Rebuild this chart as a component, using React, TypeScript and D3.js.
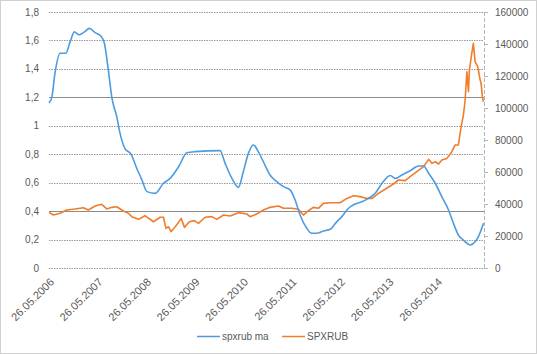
import * as d3 from "d3";

const W = 537;
const H = 354;

// spxrub ma (left axis)
const maDates = [
  "2006-05-26", "2006-06-16", "2006-07-10", "2006-08-17", "2006-09-29", "2006-11-01",
  "2006-12-03", "2007-01-08", "2007-02-17", "2007-03-26", "2007-05-08", "2007-06-22",
  "2007-07-17", "2007-08-16", "2007-09-11", "2007-10-18", "2007-11-12", "2007-12-19",
  "2008-02-03", "2008-03-17", "2008-04-24", "2008-06-01", "2008-08-02", "2008-10-04",
  "2008-11-23", "2009-01-25", "2009-03-29", "2009-05-30", "2009-12-04", "2010-01-11",
  "2010-03-03", "2010-04-21", "2010-05-28", "2010-07-05", "2010-08-12", "2010-09-18",
  "2010-10-26", "2010-12-15", "2011-02-04", "2011-03-26", "2011-05-15", "2011-06-22",
  "2011-07-29", "2011-09-18", "2011-10-25", "2011-12-02", "2012-01-21", "2012-03-12",
  "2012-05-01", "2012-06-08", "2012-07-28", "2012-09-16", "2012-11-05", "2012-12-25",
  "2013-02-14", "2013-04-06", "2013-06-07", "2013-07-15", "2013-09-03", "2013-11-04",
  "2014-01-06", "2014-02-13", "2014-03-23", "2014-05-12", "2014-07-01", "2014-08-20",
  "2014-09-26", "2014-11-02", "2014-12-10", "2015-01-30", "2015-03-08", "2015-04-02",
  "2015-05-10",
];
const maValues = [
  1.16, 1.2, 1.37, 1.51, 1.51, 1.59,
  1.66, 1.64, 1.66, 1.685, 1.655, 1.63,
  1.58, 1.39, 1.2, 1.064, 0.947, 0.84,
  0.8, 0.7, 0.62, 0.537, 0.525, 0.596,
  0.63, 0.71, 0.81, 0.818, 0.825, 0.736,
  0.63, 0.567, 0.677, 0.806, 0.865, 0.818,
  0.747, 0.654, 0.607, 0.572, 0.549, 0.478,
  0.373, 0.279, 0.244, 0.244, 0.26, 0.272,
  0.326, 0.361, 0.42, 0.45, 0.466, 0.49,
  0.525, 0.596, 0.65, 0.63, 0.654, 0.684,
  0.717, 0.717, 0.666, 0.596, 0.5, 0.408,
  0.314, 0.232, 0.197, 0.162, 0.185, 0.22,
  0.314,
];

// SPXRUB (right axis)
const spxDates = [
  "2006-05-26", "2006-06-28", "2006-08-17", "2006-10-06", "2006-12-08", "2007-02-09",
  "2007-03-18", "2007-05-08", "2007-06-27", "2007-08-04", "2007-09-11", "2007-10-18",
  "2007-12-07", "2008-01-14", "2008-02-08", "2008-03-29", "2008-05-18", "2008-07-20",
  "2008-09-09", "2008-10-04", "2008-10-22", "2008-11-10", "2008-11-30", "2008-12-31",
  "2009-01-20", "2009-02-14", "2009-03-11", "2009-04-16", "2009-05-25", "2009-06-24",
  "2009-08-13", "2009-10-03", "2009-11-10", "2009-12-29", "2010-02-18", "2010-04-21",
  "2010-06-23", "2010-07-18", "2010-09-06", "2010-10-26", "2010-12-15", "2011-02-16",
  "2011-03-26", "2011-05-28", "2011-07-17", "2011-08-23", "2011-09-30", "2011-11-06",
  "2011-12-14", "2012-01-21", "2012-03-12", "2012-05-26", "2012-07-16", "2012-09-04",
  "2012-10-24", "2012-12-13", "2013-01-20", "2013-03-11", "2013-04-30", "2013-07-01",
  "2013-08-08", "2013-09-27", "2013-11-04", "2013-12-24", "2014-02-13", "2014-03-23",
  "2014-04-17", "2014-05-12", "2014-06-06", "2014-07-01", "2014-08-08", "2014-09-14",
  "2014-10-09", "2014-11-02", "2014-11-23", "2014-12-10", "2014-12-23", "2015-01-05",
  "2015-01-17", "2015-01-24", "2015-02-11", "2015-02-23", "2015-03-08", "2015-03-28",
  "2015-04-15", "2015-04-22", "2015-05-02", "2015-05-10",
];
const spxValues = [
  34800, 33100, 34200, 36250, 36900, 37700,
  36250, 38750, 39800, 36900, 37900, 38300,
  35600, 34200, 32100, 30400, 32700, 28900,
  31700, 31700, 24800, 25800, 22700, 25800,
  27900, 31000, 25400, 28900, 29600, 27900,
  31700, 32100, 30400, 33100, 32500, 34600,
  33750, 32100, 33750, 36250, 37900, 38750,
  37300, 37300, 36700, 33100, 35800, 37900,
  37300, 40400, 40800, 40800, 43500, 45200,
  44600, 43500, 43500, 46700, 49200, 52500,
  55000, 54600, 57100, 60200, 63300, 67900,
  65400, 66400, 65000, 67500, 68500, 72700,
  76900, 76900, 88300, 95600, 105000, 122700,
  110200, 123750, 134200, 140400, 128900, 125800,
  117500, 115400, 107100, 103900,
];

const leftTicks = [0, 0.2, 0.4, 0.6, 0.8, 1, 1.2, 1.4, 1.6, 1.8];
const solidLines = [0.4, 1.2];
const rightTicks = [0, 20000, 40000, 60000, 80000, 100000, 120000, 140000, 160000];
const xLabels = [
  "26.05.2006", "26.05.2007", "26.05.2008", "26.05.2009", "26.05.2010",
  "26.05.2011", "26.05.2012", "26.05.2013", "26.05.2014",
];

const parse = d3.timeParse("%Y-%m-%d");
const parseLabel = d3.timeParse("%d.%m.%Y");

export default function App() {
  const plot = { left: 49, right: 484, top: 12, bottom: 268 };

  const x = d3
    .scaleTime()
    .domain([parse("2006-05-26")!, parse("2015-05-14")!])
    .range([plot.left, plot.right]);
  const yL = d3.scaleLinear().domain([0, 1.8]).range([plot.bottom, plot.top]);
  const yR = d3.scaleLinear().domain([0, 160000]).range([plot.bottom, plot.top]);

  const maLine = d3
    .line<number>()
    .x((_, i) => x(parse(maDates[i])!))
    .y((d) => yL(d))
    .curve(d3.curveMonotoneX);
  const spxLine = d3
    .line<number>()
    .x((_, i) => x(parse(spxDates[i])!))
    .y((d) => yR(d));

  const font = "'Liberation Sans', Arial, sans-serif";
  const textColor = "#595959";

  return (
    <svg
      width={W}
      height={H}
      style={{ position: "absolute", left: 0, top: 0, background: "#fff" }}
      fontFamily={font}
      fontSize={10}
    >
      <rect x={0.5} y={0.5} width={W - 1} height={H - 1} fill="#fff" stroke="#a0a0a0" strokeDasharray="1,1" />

      {/* gridlines */}
      {leftTicks.map((t) => (
        <line
          key={t}
          x1={plot.left}
          x2={plot.right}
          y1={Math.round(yL(t)) + 0.5}
          y2={Math.round(yL(t)) + 0.5}
          stroke={solidLines.includes(t) ? "#8c8c8c" : "#999"}
          strokeDasharray={solidLines.includes(t) ? undefined : "1.5,1"}
        />
      ))}

      {/* right axis */}
      <line x1={plot.right + 0.5} x2={plot.right + 0.5} y1={plot.top} y2={plot.bottom} stroke="#b5b5b5" strokeDasharray="4,2" />
      {rightTicks.map((t) => (
        <g key={t}>
          <line x1={plot.right} x2={plot.right + 4} y1={Math.round(yR(t)) + 0.5} y2={Math.round(yR(t)) + 0.5} stroke="#b5b5b5" />
          <text x={495} y={yR(t)} dy="0.35em" fill={textColor}>
            {t}
          </text>
        </g>
      ))}

      {leftTicks.map((t) => (
        <text key={t} x={39} y={yL(t)} dy="0.35em" textAnchor="end" fill={textColor}>
          {String(t).replace(".", ",")}
        </text>
      ))}

      {xLabels.map((l) => {
        const px = x(parseLabel(l)!);
        return (
          <text
            key={l}
            transform={`translate(${px + 3},${plot.bottom + 12}) rotate(-45)`}
            textAnchor="end"
            dy="0.35em"
            fontSize={11}
            fill={textColor}
          >
            {l}
          </text>
        );
      })}

      <path d={spxLine(spxValues)!} fill="none" stroke="#f07d2c" strokeWidth={1.6} strokeLinejoin="round" />
      <path d={maLine(maValues)!} fill="none" stroke="#4d9be0" strokeWidth={1.6} strokeLinejoin="round" />

      {/* legend */}
      <line x1={197} x2={220} y1={336.5} y2={336.5} stroke="#4d9be0" strokeWidth={1.5} />
      <text x={222} y={336.5} dy="0.35em" fill={textColor}>spxrub ma</text>
      <line x1={282} x2={305} y1={336.5} y2={336.5} stroke="#f07d2c" strokeWidth={1.5} />
      <text x={307} y={336.5} dy="0.35em" fill={textColor}>SPXRUB</text>
    </svg>
  );
}
